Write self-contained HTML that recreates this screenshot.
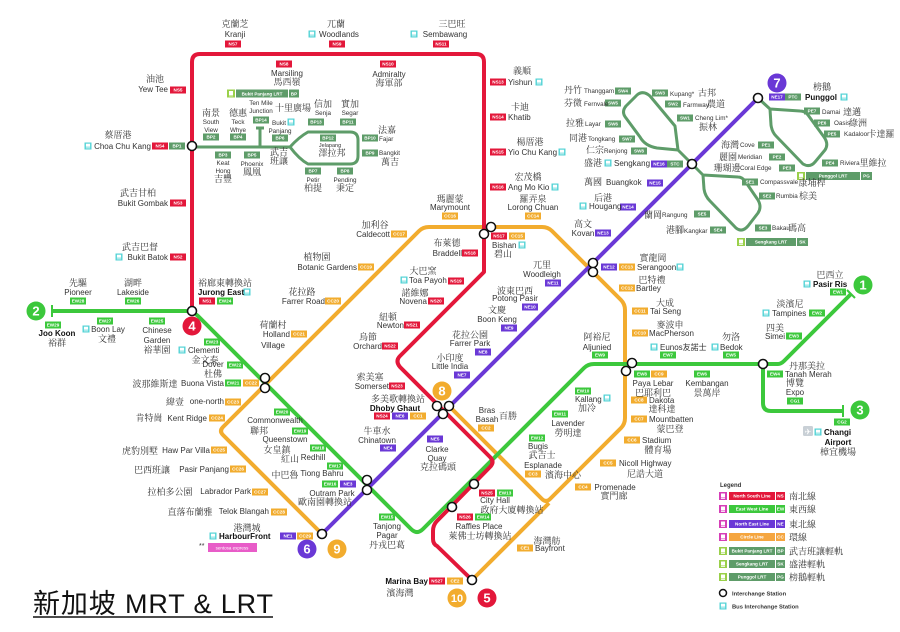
<!DOCTYPE html>
<html><head><meta charset="utf-8">
<style>
html,body{margin:0;padding:0;background:#fff;width:900px;height:632px;overflow:hidden}
svg{display:block}
text{font-family:"Liberation Sans","Noto Sans CJK TC",sans-serif;font-size:8px;fill:#333}
.z{font-family:"Liberation Serif","Noto Serif CJK SC",serif;font-size:9px;fill:#333}
.m{text-anchor:middle}
.e{text-anchor:end}
.k{font-weight:bold;fill:#111}
.s{font-size:6.3px}
.t text{font-size:4.6px;fill:#fff;text-anchor:middle;font-weight:bold}
.r{fill:#e3173a}.g{fill:#3cc83c}.p{fill:#6a38d6}.o{fill:#f2ac2e}.l{fill:#5e9c69}
.n{font-size:13px;font-weight:bold;fill:#fff;text-anchor:middle}
</style></head><body>
<svg width="900" height="632" viewBox="0 0 900 632" xmlns="http://www.w3.org/2000/svg">
<defs>
<symbol id="bu" viewBox="0 0 7 7"><rect width="7" height="7" fill="#53d3d6"/><rect x="1.4" y="1.2" width="4.2" height="3" fill="#fff"/><rect x="1.4" y="5" width="4.2" height="0.8" fill="#fff"/></symbol>
<symbol id="lr" viewBox="0 0 8 8"><rect width="8" height="8" fill="#9ad04a"/><rect x="2" y="1.5" width="4" height="4" fill="#fff"/><rect x="2" y="6" width="4" height="0.8" fill="#fff"/></symbol>
<symbol id="mr" viewBox="0 0 8 8"><rect width="8" height="8" fill="#d63fb8"/><rect x="2" y="1.5" width="4" height="4" fill="#fff"/><rect x="2" y="6" width="4" height="0.8" fill="#fff"/></symbol>
</defs>

<!-- LRT lines -->
<g fill="none" stroke="#5e9c69" stroke-width="3" stroke-linejoin="round">
<path d="M192,147 H290 Q299,137 308,132 H350 Q358,132 358,140 V156 Q358,164 350,164 H308 Q299,159 290,147"/>
<path d="M260,147 V128 M256,128 H264"/>
<path d="M692,164 L678,150 L675,126 L650,96 Q643,90 637,95 L626,106 Q621,112 626,118 L640,137 Q645,146 657,148 L678,150"/>
<path d="M692,164 L703,175 L738,177 Q742,177 745,181 L758,200 Q762,207 758,213 L748,226 Q742,233 736,228 L710,201 Q705,196 704,189 L703,175"/>
<path d="M758,98 L770,109 L800,111 Q805,111 808,115 L824,137 Q829,144 825,150 L815,162 Q810,168 803,164 L776,136 Q772,132 771,125 L770,109"/>
</g>

<!-- MRT lines -->
<g fill="none" stroke-width="4" stroke-linejoin="round">
<path stroke="#f2ac2e" d="M449,406 L542,499 Q546,503 550,499 L621,428 Q625,424 625,418 V310 Q625,304 621,300 L552,231 Q548,227 542,227 H429 Q423,227 419,231 L223,427 Q219,431 223,435 L322,534"/>
<path stroke="#f2ac2e" d="M472,580 L549,503"/>
<path stroke="#3cc83c" d="M52,311 H186 Q193,311 198,316 L411,529 Q417,535 423,529 L584,368 Q588,364 594,364 H778 Q781,364 784,361 L851,294"/>
<path stroke="#3cc83c" d="M763,364 V403 Q763,411 771,411 H843"/>
<path stroke="#3cc83c" stroke-width="2" d="M52,305 V317 M843,405 V417 M847,290 L855,298"/>
<path stroke="#e3173a" d="M192,311 V62 Q192,54 200,54 H476 Q484,54 484,62 V272 L400,356 Q395,361 400,367 L490,457 Q495,462 490,467 L437,521 Q433,525 433,531 V539 Q433,544 437,546 L472,580"/>
<path stroke="#6a38d6" d="M322,534 L758,98"/>
</g>

<!-- badges -->
<g class="r">
<rect x="225" y="40.5" width="16" height="7"/><rect x="276" y="60.5" width="16" height="7"/><rect x="329" y="40.5" width="16" height="7"/><rect x="380" y="60.5" width="16" height="7"/><rect x="433" y="40.5" width="16" height="7"/><rect x="170" y="86.5" width="16" height="7"/><rect x="152" y="142.5" width="16" height="7"/><rect x="170" y="199.5" width="16" height="7"/><rect x="170" y="253.5" width="16" height="7"/><rect x="199" y="297.5" width="16" height="7"/><rect x="490" y="78.5" width="16" height="7"/><rect x="490" y="113.5" width="16" height="7"/><rect x="490" y="148.5" width="16" height="7"/><rect x="490" y="183.5" width="16" height="7"/><rect x="491" y="232.5" width="16" height="7"/><rect x="462" y="249.5" width="16" height="7"/><rect x="448" y="277.5" width="16" height="7"/><rect x="428" y="297.5" width="16" height="7"/><rect x="404" y="321.5" width="16" height="7"/><rect x="382" y="342.5" width="16" height="7"/><rect x="389" y="382.5" width="16" height="7"/><rect x="374" y="412.5" width="16" height="7"/><rect x="479" y="489.5" width="16" height="7"/><rect x="457" y="513.5" width="16" height="7"/><rect x="429" y="577.5" width="16" height="7"/>
</g>
<g class="g">
<rect x="70" y="297.5" width="16" height="7"/><rect x="125" y="297.5" width="16" height="7"/><rect x="217" y="297.5" width="16" height="7"/><rect x="45" y="321.5" width="16" height="7"/><rect x="97" y="317.5" width="16" height="7"/><rect x="149" y="317.5" width="16" height="7"/><rect x="204" y="338.5" width="16" height="7"/><rect x="227" y="361.5" width="16" height="7"/><rect x="225" y="379.5" width="16" height="7"/><rect x="274" y="408.5" width="16" height="7"/><rect x="292" y="427.5" width="16" height="7"/><rect x="310" y="444.5" width="16" height="7"/><rect x="327" y="462.5" width="16" height="7"/><rect x="322" y="480.5" width="16" height="7"/><rect x="379" y="513.5" width="16" height="7"/><rect x="475" y="513.5" width="16" height="7"/><rect x="497" y="489.5" width="16" height="7"/><rect x="529" y="434.5" width="16" height="7"/><rect x="552" y="410.5" width="16" height="7"/><rect x="575" y="387.5" width="16" height="7"/><rect x="592" y="351.5" width="16" height="7"/><rect x="634" y="370.5" width="16" height="7"/><rect x="660" y="351.5" width="16" height="7"/><rect x="694" y="370.5" width="16" height="7"/><rect x="723" y="351.5" width="16" height="7"/><rect x="767" y="370.5" width="16" height="7"/><rect x="786" y="332.5" width="16" height="7"/><rect x="809" y="309.5" width="16" height="7"/><rect x="830" y="288.5" width="16" height="7"/><rect x="787" y="397.5" width="16" height="7"/><rect x="834" y="418.5" width="16" height="7"/>
</g>
<g class="p">
<rect x="280" y="532.5" width="16" height="7"/><rect x="340" y="480.5" width="16" height="7"/><rect x="380" y="444.5" width="16" height="7"/><rect x="427" y="435.5" width="16" height="7"/><rect x="392" y="412.5" width="16" height="7"/><rect x="454" y="371.5" width="16" height="7"/><rect x="475" y="348.5" width="16" height="7"/><rect x="501" y="324.5" width="16" height="7"/><rect x="522" y="303.5" width="16" height="7"/><rect x="545" y="279.5" width="16" height="7"/><rect x="601" y="263.5" width="16" height="7"/><rect x="595" y="229.5" width="16" height="7"/><rect x="620" y="203.5" width="16" height="7"/><rect x="647" y="179.5" width="16" height="7"/><rect x="651" y="160.5" width="16" height="7"/><rect x="769" y="93.5" width="16" height="7"/>
</g>
<g class="o">
<rect x="410" y="412.5" width="16" height="7"/><rect x="478" y="424.5" width="16" height="7"/><rect x="525" y="470.5" width="16" height="7"/><rect x="575" y="483.5" width="16" height="7"/><rect x="600" y="459.5" width="16" height="7"/><rect x="624" y="436.5" width="16" height="7"/><rect x="631" y="415.5" width="16" height="7"/><rect x="631" y="396.5" width="16" height="7"/><rect x="651" y="370.5" width="16" height="7"/><rect x="632" y="329.5" width="16" height="7"/><rect x="632" y="307.5" width="16" height="7"/><rect x="619" y="284.5" width="16" height="7"/><rect x="619" y="263.5" width="16" height="7"/><rect x="525" y="212.5" width="16" height="7"/><rect x="509" y="232.5" width="16" height="7"/><rect x="442" y="212.5" width="16" height="7"/><rect x="391" y="230.5" width="16" height="7"/><rect x="358" y="263.5" width="16" height="7"/><rect x="325" y="297.5" width="16" height="7"/><rect x="291" y="330.5" width="16" height="7"/><rect x="243" y="379.5" width="16" height="7"/><rect x="225" y="398.5" width="16" height="7"/><rect x="209" y="414.5" width="16" height="7"/><rect x="211" y="446.5" width="16" height="7"/><rect x="230" y="465.5" width="16" height="7"/><rect x="252" y="488.5" width="16" height="7"/><rect x="271" y="508.5" width="16" height="7"/><rect x="297" y="532.5" width="16" height="7"/><rect x="517" y="544.5" width="16" height="7"/><rect x="447" y="577.5" width="16" height="7"/>
</g>
<g class="l">
<rect x="169" y="142.5" width="16" height="7"/><rect x="203" y="133.5" width="16" height="7"/><rect x="215" y="151.5" width="16" height="7"/><rect x="230" y="133.5" width="16" height="7"/><rect x="244" y="151.5" width="16" height="7"/><rect x="272" y="134.5" width="16" height="7"/><rect x="253" y="116.5" width="16" height="7"/><rect x="308" y="118.5" width="16" height="7"/><rect x="340" y="118.5" width="16" height="7"/><rect x="320" y="134.5" width="16" height="7"/><rect x="362" y="134.5" width="16" height="7"/><rect x="362" y="149.5" width="16" height="7"/><rect x="305" y="167.5" width="16" height="7"/><rect x="337" y="167.5" width="16" height="7"/>
<rect x="615" y="87.5" width="16" height="7"/><rect x="605" y="99.5" width="16" height="7"/><rect x="605" y="120.5" width="16" height="7"/><rect x="619" y="135.5" width="16" height="7"/><rect x="631" y="147.5" width="16" height="7"/><rect x="667" y="160.5" width="16" height="7"/><rect x="652" y="89.5" width="16" height="7"/><rect x="665" y="100.5" width="16" height="7"/><rect x="677" y="114.5" width="16" height="7"/><rect x="694" y="210.5" width="16" height="7"/><rect x="710" y="226.5" width="16" height="7"/><rect x="742" y="178.5" width="16" height="7"/><rect x="759" y="192.5" width="16" height="7"/><rect x="755" y="224.5" width="16" height="7"/><rect x="785" y="93.5" width="16" height="7"/><rect x="758" y="141.5" width="16" height="7"/><rect x="769" y="153.5" width="16" height="7"/><rect x="779" y="164.5" width="16" height="7"/><rect x="804" y="107.5" width="16" height="7"/><rect x="814" y="119.5" width="16" height="7"/><rect x="824" y="130.5" width="16" height="7"/><rect x="822" y="159.5" width="16" height="7"/>
</g>
<g class="t">
<text x="233" y="45.7">NS7</text><text x="284" y="65.7">NS8</text><text x="337" y="45.7">NS9</text><text x="388" y="65.7">NS10</text><text x="441" y="45.7">NS11</text><text x="178" y="91.7">NS5</text><text x="160" y="147.7">NS4</text><text x="178" y="204.7">NS3</text><text x="178" y="258.7">NS2</text><text x="207" y="302.7">NS1</text><text x="498" y="83.7">NS13</text><text x="498" y="118.7">NS14</text><text x="498" y="153.7">NS15</text><text x="498" y="188.7">NS16</text><text x="499" y="237.7">NS17</text><text x="470" y="254.7">NS18</text><text x="456" y="282.7">NS19</text><text x="436" y="302.7">NS20</text><text x="412" y="326.7">NS21</text><text x="390" y="347.7">NS22</text><text x="397" y="387.7">NS23</text><text x="382" y="417.7">NS24</text><text x="487" y="494.7">NS25</text><text x="465" y="518.7">NS26</text><text x="437" y="582.7">NS27</text>
<text x="78" y="302.7">EW28</text><text x="133" y="302.7">EW26</text><text x="225" y="302.7">EW24</text><text x="53" y="326.7">EW29</text><text x="105" y="322.7">EW27</text><text x="157" y="322.7">EW25</text><text x="212" y="343.7">EW23</text><text x="235" y="366.7">EW22</text><text x="233" y="384.7">EW21</text><text x="282" y="413.7">EW20</text><text x="300" y="432.7">EW19</text><text x="318" y="449.7">EW18</text><text x="335" y="467.7">EW17</text><text x="330" y="485.7">EW16</text><text x="387" y="518.7">EW15</text><text x="483" y="518.7">EW14</text><text x="505" y="494.7">EW13</text><text x="537" y="439.7">EW12</text><text x="560" y="415.7">EW11</text><text x="583" y="392.7">EW10</text><text x="600" y="356.7">EW9</text><text x="642" y="375.7">EW8</text><text x="668" y="356.7">EW7</text><text x="702" y="375.7">EW6</text><text x="731" y="356.7">EW5</text><text x="775" y="375.7">EW4</text><text x="794" y="337.7">EW3</text><text x="817" y="314.7">EW2</text><text x="838" y="293.7">EW1</text><text x="795" y="402.7">CG1</text><text x="842" y="423.7">CG2</text>
<text x="288" y="537.7">NE1</text><text x="348" y="485.7">NE3</text><text x="388" y="449.7">NE4</text><text x="435" y="440.7">NE5</text><text x="400" y="417.7">NE6</text><text x="462" y="376.7">NE7</text><text x="483" y="353.7">NE8</text><text x="509" y="329.7">NE9</text><text x="530" y="308.7">NE10</text><text x="553" y="284.7">NE11</text><text x="609" y="268.7">NE12</text><text x="603" y="234.7">NE13</text><text x="628" y="208.7">NE14</text><text x="655" y="184.7">NE15</text><text x="659" y="165.7">NE16</text><text x="777" y="98.7">NE17</text>
<text x="418" y="417.7">CC1</text><text x="486" y="429.7">CC2</text><text x="533" y="475.7">CC3</text><text x="583" y="488.7">CC4</text><text x="608" y="464.7">CC5</text><text x="632" y="441.7">CC6</text><text x="639" y="420.7">CC7</text><text x="639" y="401.7">CC8</text><text x="659" y="375.7">CC9</text><text x="640" y="334.7">CC10</text><text x="640" y="312.7">CC11</text><text x="627" y="289.7">CC12</text><text x="627" y="268.7">CC13</text><text x="533" y="217.7">CC14</text><text x="517" y="237.7">CC15</text><text x="450" y="217.7">CC16</text><text x="399" y="235.7">CC17</text><text x="366" y="268.7">CC19</text><text x="333" y="302.7">CC20</text><text x="299" y="335.7">CC21</text><text x="251" y="384.7">CC22</text><text x="233" y="403.7">CC23</text><text x="217" y="419.7">CC24</text><text x="219" y="451.7">CC25</text><text x="238" y="470.7">CC26</text><text x="260" y="493.7">CC27</text><text x="279" y="513.7">CC28</text><text x="305" y="537.7">CC29</text><text x="525" y="549.7">CE1</text><text x="455" y="582.7">CE2</text>
<text x="177" y="147.7">BP1</text><text x="211" y="138.7">BP2</text><text x="223" y="156.7">BP3</text><text x="238" y="138.7">BP4</text><text x="252" y="156.7">BP5</text><text x="280" y="139.7">BP6</text><text x="261" y="121.7">BP14</text><text x="316" y="123.7">BP13</text><text x="348" y="123.7">BP11</text><text x="328" y="139.7">BP12</text><text x="370" y="139.7">BP10</text><text x="370" y="154.7">BP9</text><text x="313" y="172.7">BP7</text><text x="345" y="172.7">BP8</text>
<text x="623" y="92.7">SW4</text><text x="613" y="104.7">SW5</text><text x="613" y="125.7">SW6</text><text x="627" y="140.7">SW7</text><text x="639" y="152.7">SW8</text><text x="675" y="165.7">STC</text><text x="660" y="94.7">SW3</text><text x="673" y="105.7">SW2</text><text x="685" y="119.7">SW1</text><text x="702" y="215.7">SE5</text><text x="718" y="231.7">SE4</text><text x="750" y="183.7">SE1</text><text x="767" y="197.7">SE2</text><text x="763" y="229.7">SE3</text><text x="793" y="98.7">PTC</text><text x="766" y="146.7">PE1</text><text x="777" y="158.7">PE2</text><text x="787" y="169.7">PE3</text><text x="812" y="112.7">PE7</text><text x="822" y="124.7">PE6</text><text x="832" y="135.7">PE5</text><text x="830" y="164.7">PE4</text>
</g>

<!-- interchange circles -->
<g stroke="#111" stroke-width="1.6" fill="#fff">
<circle cx="192" cy="146" r="4.5"/><circle cx="192" cy="311" r="4.5"/><circle cx="322" cy="534" r="4.5"/><circle cx="474" cy="484" r="4.5"/><circle cx="452" cy="507" r="4.5"/><circle cx="472" cy="580" r="4.5"/><circle cx="692" cy="164" r="4.5"/><circle cx="758" cy="98" r="4.5"/><circle cx="763" cy="364" r="4.5"/>
<circle cx="265" cy="378" r="4.5"/><circle cx="265" cy="388" r="4.5"/>
<circle cx="484" cy="234" r="4.5"/><circle cx="491" cy="227" r="4.5"/>
<circle cx="593" cy="263" r="4.5"/><circle cx="593" cy="272" r="4.5"/>
<circle cx="367" cy="480" r="4.5"/><circle cx="367" cy="490" r="4.5"/>
<circle cx="437" cy="406" r="4.5"/><circle cx="449" cy="406" r="4.5"/><circle cx="443" cy="414" r="4.5"/>
<circle cx="632" cy="363" r="4.5"/><circle cx="626" cy="371" r="4.5"/>
</g>
<g fill="#fff">
<circle cx="265" cy="378" r="3.7"/><circle cx="265" cy="388" r="3.7"/>
<circle cx="484" cy="234" r="3.7"/><circle cx="491" cy="227" r="3.7"/>
<circle cx="593" cy="263" r="3.7"/><circle cx="593" cy="272" r="3.7"/>
<circle cx="367" cy="480" r="3.7"/><circle cx="367" cy="490" r="3.7"/>
<circle cx="437" cy="406" r="3.7"/><circle cx="449" cy="406" r="3.7"/><circle cx="443" cy="414" r="3.7"/>
<circle cx="632" cy="363" r="3.7"/><circle cx="626" cy="371" r="3.7"/>
</g>

<!-- number circles -->
<circle cx="863" cy="285" r="9.5" fill="#3cc83c"/><text class="n" x="863" y="289.5">1</text>
<circle cx="36" cy="311" r="9.5" fill="#3cc83c"/><text class="n" x="36" y="315.5">2</text>
<circle cx="860" cy="410" r="9.5" fill="#3cc83c"/><text class="n" x="860" y="414.5">3</text>
<circle cx="192" cy="326" r="9.5" fill="#e3173a"/><text class="n" x="192" y="330.5">4</text>
<circle cx="487" cy="598" r="9.5" fill="#e3173a"/><text class="n" x="487" y="602.5">5</text>
<circle cx="307" cy="549" r="9.5" fill="#6a38d6"/><text class="n" x="307" y="553.5">6</text>
<circle cx="777" cy="83" r="9.5" fill="#6a38d6"/><text class="n" x="777" y="87.5">7</text>
<circle cx="442" cy="391" r="9.5" fill="#f2ac2e"/><text class="n" x="442" y="395.5">8</text>
<circle cx="337" cy="549" r="9.5" fill="#f2ac2e"/><text class="n" x="337" y="553.5">9</text>
<circle cx="457" cy="598" r="9.5" fill="#f2ac2e"/><text class="n" x="457" y="602" style="font-size:11px">10</text>

<!-- bus icons -->
<g>
<use href="#bu" x="308.5" y="30.5" width="7" height="7"/><use href="#bu" x="410.5" y="30.5" width="7" height="7"/><use href="#bu" x="84.5" y="142.5" width="7" height="7"/><use href="#bu" x="115.5" y="253.5" width="7" height="7"/><use href="#bu" x="287.5" y="118.5" width="7" height="7"/><use href="#bu" x="243.5" y="288.5" width="7" height="7"/><use href="#bu" x="82.5" y="325.5" width="7" height="7"/><use href="#bu" x="178.5" y="346.5" width="7" height="7"/><use href="#bu" x="209.5" y="532.5" width="7" height="7"/><use href="#bu" x="535.5" y="78.5" width="7" height="7"/><use href="#bu" x="558.5" y="148.5" width="7" height="7"/><use href="#bu" x="551.5" y="183.5" width="7" height="7"/><use href="#bu" x="518.5" y="241.5" width="7" height="7"/><use href="#bu" x="400.5" y="276.5" width="7" height="7"/><use href="#bu" x="604.5" y="159.5" width="7" height="7"/><use href="#bu" x="579.5" y="202.5" width="7" height="7"/><use href="#bu" x="840.5" y="93.5" width="7" height="7"/><use href="#bu" x="676.5" y="263.5" width="7" height="7"/><use href="#bu" x="603.5" y="394.5" width="7" height="7"/><use href="#bu" x="650.5" y="343.5" width="7" height="7"/><use href="#bu" x="711.5" y="343.5" width="7" height="7"/><use href="#bu" x="762.5" y="309.5" width="7" height="7"/><use href="#bu" x="803.5" y="280.5" width="7" height="7"/><use href="#bu" x="814.5" y="428.5" width="7" height="7"/>
</g>
<rect x="803" y="426" width="10" height="10" rx="1.5" fill="#c9d0d6"/><text x="808" y="434.5" class="m" style="font-family:'DejaVu Sans',sans-serif;font-size:8px;fill:#fff">✈</text>

<!-- LRT bars -->
<use href="#lr" x="227" y="89.5" width="8" height="8"/>
<rect x="236" y="89.5" width="52" height="8" class="l"/><rect x="289" y="89.5" width="10" height="8" class="l"/>
<use href="#lr" x="737" y="238" width="8" height="8"/>
<rect x="746" y="238" width="50" height="8" class="l"/><rect x="797" y="238" width="11" height="8" class="l"/>
<use href="#lr" x="797" y="172" width="8" height="8"/>
<rect x="806" y="172" width="54" height="8" class="l"/><rect x="861" y="172" width="11" height="8" class="l"/>
<g class="t">
<text x="262" y="95.3">Bukit Panjang LRT</text><text x="294" y="95.3">BP</text>
<text x="771" y="243.7">Sengkang LRT</text><text x="802.5" y="243.7">SK</text>
<text x="833" y="177.7">Punggol LRT</text><text x="866.5" y="177.7">PG</text>
</g>

<!-- labels top / NS -->
<text class="z m" x="235" y="27">克蘭芝</text><text class="m" x="235" y="37">Kranji</text>
<text class="m" x="287" y="76">Marsiling</text><text class="z m" x="287" y="85">馬西嶺</text>
<text class="z m" x="336" y="27">兀蘭</text><text class="m" x="339" y="37">Woodlands</text>
<text class="m" x="389" y="77">Admiralty</text><text class="z m" x="389" y="86">海軍部</text>
<text class="z m" x="452" y="27">三巴旺</text><text class="m" x="445" y="37">Sembawang</text>
<text class="z m" x="155" y="82">油池</text><text class="e" x="168" y="92">Yew Tee</text>
<text class="z m" x="118" y="138">蔡厝港</text><text class="e" x="151" y="149">Choa Chu Kang</text>
<text class="z m" x="138" y="196">武吉甘柏</text><text class="e" x="168" y="206">Bukit Gombak</text>
<text class="z m" x="140" y="250">武吉巴督</text><text class="e" x="168" y="260">Bukit Batok</text>
<text class="z m" x="522" y="74">義順</text><text x="508" y="85">Yishun</text>
<text class="z m" x="520" y="110">卡迪</text><text x="508" y="120">Khatib</text>
<text class="z m" x="530" y="145">楊厝港</text><text x="508" y="155">Yio Chu Kang</text>
<text class="z m" x="528" y="180">宏茂橋</text><text x="508" y="190">Ang Mo Kio</text>

<!-- BP LRT labels -->
<text class="z m" x="211" y="116">南景</text><text class="s m" x="211" y="124">South</text><text class="s m" x="211" y="132">View</text>
<text class="z m" x="238" y="116">德惠</text><text class="s m" x="238" y="124">Teck</text><text class="s m" x="238" y="132">Whye</text>
<text class="s m" x="261" y="105">Ten Mile</text><text class="s m" x="261" y="113">Junction</text><text class="z m" x="293" y="111">十里廣場</text>
<text class="s m" x="279" y="125">Bukit</text><text class="s m" x="280" y="133">Panjang</text>
<text class="s m" x="223" y="165">Keat</text><text class="s m" x="223" y="173">Hong</text><text class="z m" x="223" y="182">吉豐</text>
<text class="s m" x="252" y="166">Phoenix</text><text class="z m" x="252" y="175">鳳凰</text>
<text class="z m" x="279" y="155">武吉</text><text class="z m" x="279" y="164">班讓</text>
<text class="z m" x="323" y="107">信加</text><text class="s m" x="323" y="115">Senja</text>
<text class="z m" x="350" y="107">實加</text><text class="s m" x="350" y="115">Segar</text>
<text class="s m" x="330" y="147" style="font-size:5.5px">Jelapang</text><text class="z m" x="332" y="156">澤拉邦</text>
<text class="z m" x="387" y="133">法嘉</text><text class="s" x="379" y="141">Fajar</text>
<text class="s" x="379" y="155">Bangkit</text><text class="z m" x="390" y="165">萬吉</text>
<text class="s m" x="313" y="182">Petir</text><text class="z m" x="313" y="191">柏提</text>
<text class="s m" x="345" y="182">Pending</text><text class="z m" x="345" y="191">秉定</text>

<!-- EW west -->
<text class="z m" x="78" y="286">先驅</text><text class="m" x="78" y="295">Pioneer</text>
<text class="z m" x="133" y="286">湖畔</text><text class="m" x="133" y="295">Lakeside</text>
<text class="z m" x="225" y="286">裕廊東轉換站</text><text class="k m" x="221" y="295">Jurong East</text>
<text class="k m" x="57" y="336">Joo Koon</text><text class="z m" x="57" y="346">裕群</text>
<text class="m" x="108" y="332">Boon Lay</text><text class="z m" x="107" y="342">文禮</text>
<text class="m" x="157" y="333">Chinese</text><text class="m" x="157" y="343">Garden</text><text class="z m" x="157" y="353">裕華園</text>
<text x="188" y="353">Clementi</text><text class="z m" x="205" y="363">金文泰</text>
<text class="m" x="213" y="367">Dover</text><text class="z m" x="213" y="377">杜佛</text>
<text class="z m" x="155" y="387">波那維斯達</text><text class="e" x="224" y="386">Buona Vista</text>
<text class="z m" x="175" y="405">緯壹</text><text class="e" x="224" y="404">one-north</text>
<text class="z m" x="149" y="421">肯特崗</text><text class="e" x="207" y="421">Kent Ridge</text>
<text class="z m" x="140" y="454">虎豹別墅</text><text class="e" x="210" y="453">Haw Par Villa</text>
<text class="z m" x="152" y="473">巴西班讓</text><text class="e" x="229" y="472">Pasir Panjang</text>
<text class="z m" x="170" y="495">拉柏多公園</text><text class="e" x="251" y="494">Labrador Park</text>
<text class="z m" x="190" y="515">直落布蘭雅</text><text class="e" x="269" y="514">Telok Blangah</text>
<text class="z m" x="247" y="531">港灣城</text><text class="k" x="219" y="539">HarbourFront</text>
<text x="199" y="548" style="font-size:7px;fill:#333">**</text>
<rect x="208" y="543" width="49" height="9" fill="#e85cc8"/><text x="232" y="549.5" class="m" style="font-size:4.5px;fill:#fff">sentosa express</text>

<!-- CC west / NS middle -->
<text class="z m" x="317" y="260">植物園</text><text class="e" x="357" y="270">Botanic Gardens</text>
<text class="z m" x="302" y="295">花拉路</text><text class="e" x="325" y="304">Farrer Road</text>
<text class="z m" x="273" y="328">荷蘭村</text><text class="e" x="290" y="337">Holland</text><text class="m" x="273" y="348">Village</text>
<text class="z m" x="375" y="228">加利谷</text><text class="e" x="390" y="237">Caldecott</text>
<text class="z m" x="450" y="202">瑪麗蒙</text><text class="m" x="450" y="210">Marymount</text>
<text class="z m" x="533" y="202">羅弄泉</text><text class="m" x="533" y="210">Lorong Chuan</text>
<text class="z m" x="447" y="246">布萊德</text><text class="e" x="462" y="256">Braddell</text>
<text x="492" y="248">Bishan</text><text class="z m" x="503" y="257">碧山</text>
<text class="z m" x="423" y="274">大巴窯</text><text x="409" y="283">Toa Payoh</text>
<text class="z m" x="415" y="296">諾維娜</text><text class="e" x="427" y="304">Novena</text>
<text class="z m" x="388" y="320">紐頓</text><text class="e" x="404" y="328">Newton</text>
<text class="z m" x="368" y="340">烏節</text><text class="e" x="382" y="349">Orchard</text>
<text class="z m" x="370" y="380">索美塞</text><text class="e" x="389" y="389">Somerset</text>
<text class="z m" x="398" y="402">多美歌轉換站</text><text class="k m" x="395" y="411">Dhoby Ghaut</text>

<!-- NE labels -->
<text class="z m" x="450" y="361">小印度</text><text class="m" x="450" y="369">Little India</text>
<text class="z m" x="470" y="338">花拉公園</text><text class="m" x="470" y="346">Farrer Park</text>
<text class="z m" x="497" y="313">文慶</text><text class="m" x="497" y="322">Boon Keng</text>
<text class="z m" x="515" y="294">波東巴西</text><text class="m" x="515" y="301">Potong Pasir</text>
<text class="z m" x="542" y="268">兀里</text><text class="m" x="542" y="277">Woodleigh</text>
<text class="z m" x="583" y="227">高文</text><text class="m" x="583" y="236">Kovan</text>
<text class="z m" x="603" y="201">后港</text><text x="589" y="209">Hougang</text>
<text class="z m" x="593" y="185">萬國</text><text x="606" y="185">Buangkok</text>
<text class="z m" x="593" y="166">盛港</text><text x="614" y="166">Sengkang</text>

<!-- SK LRT labels -->
<text class="z m" x="573" y="93">丹竹</text><text class="s" x="584" y="93">Thanggam</text>
<text class="z m" x="573" y="106">芬微</text><text class="s" x="584" y="106">Fernvale</text>
<text class="z m" x="575" y="126">拉雅</text><text class="s" x="585" y="126">Layar</text>
<text class="z m" x="578" y="141">同港</text><text class="s" x="588" y="141">Tongkang</text>
<text class="z m" x="595" y="153">仁宗</text><text class="s" x="604" y="153">Renjong</text>
<text class="s" x="670" y="96">Kupang*</text><text class="z m" x="707" y="96">古邦</text>
<text class="s" x="683" y="107">Farmway</text><text class="z m" x="716" y="107">農道</text>
<text class="s" x="695" y="120">Cheng Lim*</text><text class="z m" x="708" y="130">振林</text>
<text class="z m" x="653" y="218">蘭岡</text><text class="s" x="662" y="217">Rangung</text>
<text class="z m" x="675" y="233">港腳</text><text class="s" x="684" y="233">Kangkar</text>
<text class="s" x="760" y="184">Compassvale</text><text class="z m" x="812" y="186">康埔桿</text>
<text class="s" x="776" y="198">Rumbia</text><text class="z m" x="808" y="199">棕美</text>
<text class="s" x="772" y="230">Bakau</text><text class="z m" x="797" y="231">碼高</text>

<!-- Punggol -->
<text class="z m" x="822" y="90">榜鵝</text><text class="k" x="805" y="100">Punggol</text>
<text class="z m" x="730" y="148">海灣</text><text class="s" x="740" y="147">Cove</text>
<text class="z m" x="728" y="160">麗園</text><text class="s" x="738" y="159">Meridian</text>
<text class="z m" x="727" y="171">珊瑚邊</text><text class="s" x="740" y="170">Coral Edge</text>
<text class="s" x="822" y="114">Damai</text><text class="z m" x="852" y="115">達邁</text>
<text class="s" x="834" y="125">Oasis</text><text class="z m" x="858" y="126">綠洲</text>
<text class="s" x="844" y="136">Kadaloor</text><text class="z m" x="881" y="137">卡達羅</text>
<text class="s" x="840" y="165">Riviera</text><text class="z m" x="873" y="166">里維拉</text>

<!-- EW east / CC east -->
<text class="z m" x="597" y="340">阿裕尼</text><text class="m" x="597" y="350">Aljunied</text>
<text class="m" x="653" y="386">Paya Lebar</text><text class="z m" x="653" y="396">巴耶利巴</text>
<text x="660" y="350">Eunos友諾士</text>
<text class="z m" x="731" y="340">勿洛</text><text x="720" y="350">Bedok</text>
<text class="m" x="707" y="386">Kembangan</text><text class="z m" x="707" y="396">景萬岸</text>
<text class="z m" x="775" y="331">四美</text><text class="m" x="775" y="339">Simei</text>
<text class="z m" x="790" y="307">淡濱尼</text><text x="772" y="316">Tampines</text>
<text class="z m" x="830" y="278">巴西立</text><text class="k" x="813" y="287">Pasir Ris</text>
<text class="z m" x="807" y="369">丹那美拉</text><text x="785" y="377">Tanah Merah</text>
<text class="z m" x="795" y="386">博覽</text><text class="m" x="795" y="395">Expo</text>
<text class="k" x="824" y="435">Changi</text><text class="k m" x="838" y="445">Airport</text><text class="z m" x="838" y="455">樟宜機場</text>
<text class="z m" x="653" y="261">實龍岡</text><text x="637" y="270">Serangoon</text>
<text class="z m" x="652" y="283">巴特禮</text><text x="636" y="291">Bartley</text>
<text class="z m" x="665" y="306">大成</text><text x="650" y="314">Tai Seng</text>
<text class="z m" x="670" y="328">麥波申</text><text x="649" y="336">MacPherson</text>
<text x="649" y="403">Dakota</text><text class="z m" x="662" y="412">達科達</text>
<text x="649" y="422">Mountbatten</text><text class="z m" x="670" y="432">蒙巴登</text>
<text x="642" y="443">Stadium</text><text class="z m" x="658" y="453">體育場</text>
<text x="619" y="466">Nicoll Highway</text><text class="z m" x="645" y="477">尼誥大道</text>
<text class="m" x="615" y="490">Promenade</text><text class="z m" x="614" y="499">實門廊</text>

<!-- downtown -->
<text class="m" x="487" y="413">Bras</text><text class="m" x="487" y="422">Basah</text><text class="z m" x="508" y="419">百勝</text>
<text class="m" x="538" y="449">Bugis</text><text class="z m" x="542" y="458">武吉士</text>
<text class="m" x="543" y="468">Esplanade</text><text class="z m" x="563" y="478">濱海中心</text>
<text x="575" y="402">Kallang</text><text class="z m" x="587" y="411">加冷</text>
<text class="m" x="568" y="426">Lavender</text><text class="z m" x="568" y="436">勞明達</text>
<text class="m" x="495" y="503">City Hall</text><text class="z m" x="512" y="513">政府大廈轉換站</text>
<text class="m" x="479" y="529">Raffles Place</text><text class="z m" x="480" y="539">萊佛士坊轉換站</text>
<text class="z m" x="547" y="544">海灣舫</text><text x="535" y="551">Bayfront</text>
<text class="k e" x="428" y="584">Marina Bay</text><text class="z m" x="400" y="596">濱海灣</text>
<text class="m" x="437" y="452">Clarke</text><text class="m" x="437" y="461">Quay</text><text class="z m" x="438" y="470">克拉碼頭</text>
<text class="z m" x="377" y="434">牛車水</text><text class="m" x="377" y="443">Chinatown</text>
<text class="m" x="275" y="423">Commonwealth</text><text class="z m" x="259" y="434">聯邦</text>
<text class="m" x="285" y="442">Queenstown</text><text class="z m" x="277" y="453">女皇鎮</text>
<text class="m" x="313" y="460">Redhill</text><text class="z m" x="290" y="462">紅山</text>
<text class="m" x="322" y="476">Tiong Bahru</text><text class="z m" x="285" y="478">中巴魯</text>
<text class="m" x="332" y="496">Outram Park</text><text class="z m" x="325" y="505">歐南園轉換站</text>
<text class="m" x="387" y="529">Tanjong</text><text class="m" x="387" y="538">Pagar</text><text class="z m" x="387" y="548">丹戎巴葛</text>

<!-- legend -->
<text x="720" y="487" style="font-size:6px;font-weight:bold;fill:#333">Legend</text>
<use href="#mr" x="719" y="492" width="8" height="8"/><rect x="729" y="492" width="46" height="8" class="r"/><rect x="776" y="492" width="9" height="8" class="r"/>
<use href="#mr" x="719" y="505" width="8" height="8"/><rect x="729" y="505" width="46" height="8" class="g"/><rect x="776" y="505" width="9" height="8" class="g"/>
<use href="#mr" x="719" y="520" width="8" height="8"/><rect x="729" y="520" width="46" height="8" class="p"/><rect x="776" y="520" width="9" height="8" class="p"/>
<use href="#mr" x="719" y="533" width="8" height="8"/><rect x="729" y="533" width="46" height="8" fill="#f5a640"/><rect x="776" y="533" width="9" height="8" fill="#f5a640"/>
<use href="#lr" x="719" y="547" width="8" height="8"/><rect x="729" y="547" width="46" height="8" class="l"/><rect x="776" y="547" width="9" height="8" class="l"/>
<use href="#lr" x="719" y="560" width="8" height="8"/><rect x="729" y="560" width="46" height="8" class="l"/><rect x="776" y="560" width="9" height="8" class="l"/>
<use href="#lr" x="719" y="573" width="8" height="8"/><rect x="729" y="573" width="46" height="8" class="l"/><rect x="776" y="573" width="9" height="8" class="l"/>
<g class="t">
<text x="752" y="497.7">North South Line</text><text x="780.5" y="497.7">NS</text>
<text x="752" y="510.7">East West Line</text><text x="780.5" y="510.7">EW</text>
<text x="752" y="525.7">North East Line</text><text x="780.5" y="525.7">NE</text>
<text x="752" y="538.7">Circle Line</text><text x="780.5" y="538.7">CC</text>
<text x="752" y="552.7">Bukit Panjang LRT</text><text x="780.5" y="552.7">BP</text>
<text x="752" y="565.7">Sengkang LRT</text><text x="780.5" y="565.7">SK</text>
<text x="752" y="578.7">Punggol LRT</text><text x="780.5" y="578.7">PG</text>
</g>
<text class="z" x="789" y="499.5">南北線</text>
<text class="z" x="789" y="512.5">東西線</text>
<text class="z" x="789" y="527.5">東北線</text>
<text class="z" x="789" y="540.5">環線</text>
<text class="z" x="789" y="554.5">武吉班讓輕軌</text>
<text class="z" x="789" y="567.5">盛港輕軌</text>
<text class="z" x="789" y="580.5">榜鵝輕軌</text>
<circle cx="723" cy="593" r="3.5" fill="#fff" stroke="#111" stroke-width="1.5"/>
<text x="732" y="595.3" style="font-size:5.8px;font-weight:bold;fill:#333">Interchange Station</text>
<use href="#bu" x="719.5" y="602.5" width="7" height="7"/>
<text x="732" y="608.3" style="font-size:5.8px;font-weight:bold;fill:#333">Bus Interchange Station</text>

<!-- title -->
<text x="33" y="613" textLength="240" lengthAdjust="spacing" style="font-family:'Liberation Sans','Noto Sans CJK TC',sans-serif;font-size:27px;fill:#111">新加坡 MRT &amp; LRT</text>
<line x1="33" y1="617" x2="273" y2="617" stroke="#111" stroke-width="1.5"/>
</svg>
</body></html>
